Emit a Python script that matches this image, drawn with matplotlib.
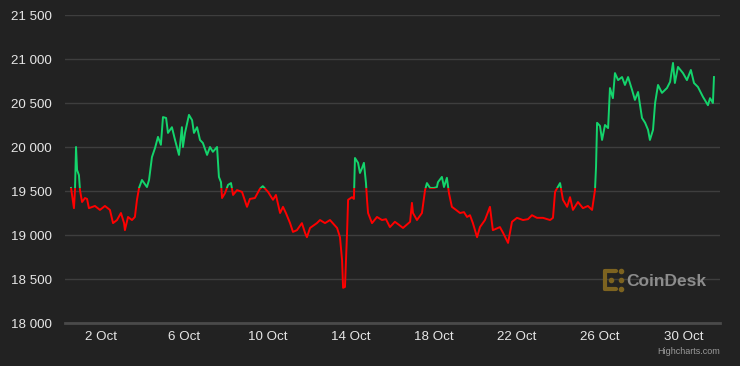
import pandas as pd
import matplotlib
matplotlib.use('Agg')
import matplotlib.pyplot as plt
from matplotlib.patches import Rectangle

# days after 1 Oct 2022 00:00, and BTC price (USD)
days = [-0.44, -0.30, -0.25, -0.20, -0.15, -0.06, -0.01, 0.09, 0.23, 0.33,
        0.42, 0.71, 0.95, 1.19, 1.43, 1.58, 1.77, 1.96, 2.11, 2.15,
        2.30, 2.49, 2.63, 2.73, 2.83, 2.97, 3.21, 3.31, 3.45, 3.60,
        3.74, 3.88, 3.98, 4.13, 4.22, 4.41, 4.56, 4.75, 4.89, 4.94,
        5.04, 5.23, 5.38, 5.47, 5.62, 5.76, 5.90, 6.10, 6.24, 6.38,
        6.58, 6.67, 6.77, 6.82, 6.96, 7.11, 7.25, 7.35, 7.54, 7.78,
        8.02, 8.16, 8.40, 8.64, 8.78, 9.03, 9.27, 9.41, 9.61, 9.75,
        9.89, 10.09, 10.23, 10.42, 10.66, 10.81, 10.90, 11.05, 11.38, 11.53,
        11.77, 12.01, 12.35, 12.49, 12.59, 12.64, 12.73, 12.83, 12.88, 13.07,
        13.16, 13.21, 13.36, 13.45, 13.55, 13.64, 13.74, 13.79, 13.84, 14.03,
        14.27, 14.51, 14.70, 14.89, 15.13, 15.33, 15.52, 15.86, 15.95, 16.00,
        16.19, 16.43, 16.58, 16.67, 16.82, 17.01, 17.15, 17.20, 17.39, 17.49,
        17.63, 17.73, 17.87, 18.07, 18.26, 18.45, 18.60, 18.74, 18.88, 19.08,
        19.22, 19.46, 19.70, 19.84, 20.18, 20.33, 20.57, 20.76, 21.00, 21.29,
        21.53, 21.72, 21.96, 22.25, 22.59, 22.73, 22.83, 23.07, 23.21, 23.41,
        23.55, 23.69, 23.93, 24.17, 24.41, 24.61, 24.75, 24.80, 24.85, 24.99,
        25.09, 25.23, 25.38, 25.47, 25.61, 25.71, 25.86, 26.05, 26.19, 26.34,
        26.53, 26.67, 26.82, 27.01, 27.16, 27.30, 27.39, 27.54, 27.64, 27.78,
        27.97, 28.21, 28.36, 28.50, 28.59, 28.74, 28.98, 29.17, 29.36, 29.51,
        29.70, 29.94, 30.18, 30.28, 30.42, 30.47]
prices = [19535, 19305, 19510, 20000, 19740, 19680, 19510, 19375, 19420, 19410,
          19305, 19330, 19285, 19330, 19285, 19135, 19170, 19250, 19135, 19055,
          19205, 19170, 19205, 19400, 19535, 19625, 19545, 19625, 19885, 19990,
          20115, 20025, 20340, 20330, 20160, 20225, 20080, 19910, 20225, 20000,
          20160, 20365, 20305, 20160, 20225, 20080, 20045, 19910, 20000, 19945,
          20000, 19660, 19600, 19420, 19475, 19570, 19590, 19455, 19510, 19490,
          19320, 19410, 19420, 19525, 19555, 19490, 19400, 19455, 19250, 19320,
          19250, 19135, 19035, 19055, 19135, 19025, 18975, 19080, 19135, 19170,
          19135, 19170, 19080, 18975, 18715, 18400, 18410, 19025, 19400, 19430,
          19410, 19875, 19820, 19705, 19760, 19820, 19590, 19400, 19250, 19135,
          19205, 19170, 19180, 19090, 19150, 19115, 19080, 19150, 19365, 19250,
          19170, 19250, 19510, 19590, 19535, 19535, 19545, 19600, 19660, 19545,
          19650, 19475, 19320, 19285, 19250, 19260, 19205, 19225, 19135, 18975,
          19090, 19170, 19320, 19055, 19090, 19025, 18910, 19150, 19195, 19170,
          19180, 19225, 19195, 19195, 19170, 19195, 19490, 19590, 19400, 19320,
          19430, 19285, 19375, 19305, 19330, 19285, 19510, 19775, 20275, 20240,
          20080, 20250, 20215, 20670, 20555, 20840, 20760, 20795, 20705, 20795,
          20650, 20535, 20625, 20330, 20275, 20195, 20080, 20195, 20500, 20705,
          20615, 20670, 20740, 20955, 20727, 20910, 20840, 20760, 20875, 20727,
          20682, 20570, 20475, 20555, 20500, 20795]

y_ticks = [18000, 18500, 19000, 19500, 20000, 20500, 21000, 21500]
x_tick_days = [1, 5, 9, 13, 17, 21, 25, 29]
x_tick_labels = ['2 Oct', '6 Oct', '10 Oct', '14 Oct', '18 Oct', '22 Oct', '26 Oct', '30 Oct']
threshold = 19530

bg = '#222222'
green = '#14d46c'
red = '#ff0000'

plt.rcParams['font.family'] = ['Liberation Sans', 'DejaVu Sans']

fig = plt.figure(figsize=(7.4, 3.66), dpi=100, facecolor=bg)
ax = fig.add_axes([65 / 740, 1 - 323 / 366, 655 / 740, 308 / 366])
ax.set_facecolor(bg)

base = pd.Timestamp('2022-10-01')
dates = base + pd.to_timedelta(days, unit='D')

# zone colouring: green above threshold, red below
above = Rectangle((0, threshold), 1, 10000, transform=ax.get_yaxis_transform())
below = Rectangle((0, threshold - 10000), 1, 10000, transform=ax.get_yaxis_transform())
l_up, = ax.plot(dates, prices, color=green, lw=1.4, solid_joinstyle='round', zorder=3)
l_up.set_clip_path(above)
l_dn, = ax.plot(dates, prices, color=red, lw=1.4, solid_joinstyle='round', zorder=3)
l_dn.set_clip_path(below)

ax.set_ylim(18000, 21500)
ax.set_xlim(base + pd.Timedelta(days=-0.73), base + pd.Timedelta(days=30.76))

ax.set_yticks(y_ticks)
ax.set_yticklabels([f'{v:,}'.replace(',', ' ') for v in y_ticks])
ax.set_xticks([base + pd.Timedelta(days=d) for d in x_tick_days])
ax.set_xticklabels(x_tick_labels)

ax.yaxis.grid(True, color='#3e3e3e', lw=1)
ax.set_axisbelow(True)
for s in ['top', 'right', 'left']:
    ax.spines[s].set_visible(False)
ax.spines['bottom'].set_color('#4a4a4a')
ax.spines['bottom'].set_linewidth(2)

ax.tick_params(axis='y', length=0, pad=9.5, labelsize=9.6, labelcolor='#e6e6e6')
ax.tick_params(axis='x', length=0, pad=5.5, labelsize=9.6, labelcolor='#e6e6e6')

fig.text(720 / 740, 1 - 351 / 366, 'Highcharts.com', ha='right', va='center',
         fontsize=6.5, color='#9a9a9a')
fig.text(626 / 740, 1 - 281 / 366, 'CoinDesk', ha='left', va='center',
         fontsize=12.5, fontweight='bold', color='#8c8c8c')

# small logo mark
lax = fig.add_axes([601 / 740, 1 - 294 / 366, 24 / 740, 28 / 366])
lax.set_xlim(0, 24)
lax.set_ylim(28, 0)
lax.axis('off')
gold = '#7d6320'
lax.plot([4, 15], [5, 5], color=gold, lw=3, solid_capstyle='round')
lax.plot([4, 4], [5, 23], color=gold, lw=3, solid_capstyle='round')
lax.plot([4, 15], [23, 23], color=gold, lw=3, solid_capstyle='round')
lax.scatter([20, 20, 20, 10], [5, 23, 14, 14], s=9, color=gold)

fig.savefig('out.png', dpi=100, facecolor=bg)
